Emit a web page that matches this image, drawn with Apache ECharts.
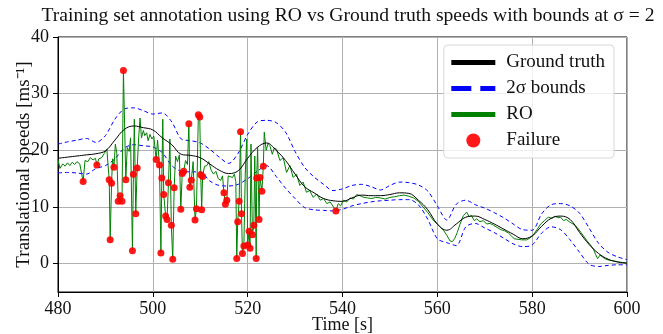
<!DOCTYPE html>
<html>
<head>
<meta charset="utf-8">
<script src="https://cdn.jsdelivr.net/npm/echarts@6/dist/echarts.min.js"></script>
<style>
  html, body { margin: 0; padding: 0; background: #fff; }
  #chart { width: 663px; height: 334px; }
</style>
</head>
<body>
<div id="chart"></div>
<script>
// ground truth and 2-sigma bounds, sampled every 2 s
var gtTime = [480, 482, 484, 486, 488, 490, 492, 494, 496, 498, 500, 502, 504, 506, 508, 510, 512, 514, 516, 518,
    520, 522, 524, 526, 528, 530, 532, 534, 536, 538, 540, 542, 544, 546, 548, 550, 552, 554, 556, 558,
    560, 562, 564, 566, 568, 570, 572, 574, 576, 578, 580, 582, 584, 586, 588, 590, 592, 594, 596, 598, 600];
var gtSpeed = [18.6, 18.8, 19.0, 19.2, 19.4, 19.9, 21.8, 23.7, 24.3, 24.0, 23.6, 22.2, 21.0, 19.3, 19.1, 18.7, 17.6, 16.5, 15.9, 16.4,
    18.6, 20.5, 21.3, 20.0, 18.2, 15.8, 13.6, 12.5, 11.5, 11.1, 11.0, 11.6, 12.1, 12.0, 12.0, 12.2, 12.5, 12.4, 11.2, 9.5,
    7.0, 5.9, 7.0, 8.2, 8.4, 7.8, 7.0, 6.1, 5.2, 4.4, 4.9, 6.6, 8.0, 8.4, 7.8, 5.5, 3.4, 1.8, 0.8, 0.3, 0.1];
var upperBound = [21.1, 21.5, 21.8, 22.1, 21.4, 22.6, 25.5, 27.3, 27.5, 27.0, 26.4, 26.6, 25.0, 22.0, 21.7, 21.3, 20.2, 18.8, 17.7, 19.5,
    22.8, 25.0, 25.3, 24.9, 23.2, 19.8, 17.0, 15.3, 14.0, 12.9, 13.2, 13.8, 14.0, 13.6, 13.0, 13.8, 14.4, 14.3, 13.9, 12.8,
    10.2, 7.7, 10.5, 11.2, 10.4, 9.8, 9.0, 8.1, 7.0, 6.0, 5.9, 8.8, 10.4, 10.6, 10.2, 8.9, 6.3, 3.6, 2.0, 1.2, 0.7];
var lowerBound = [16.0, 16.1, 16.0, 15.8, 16.8, 17.3, 18.5, 20.4, 21.0, 20.8, 20.6, 19.6, 17.3, 16.3, 16.2, 16.2, 14.6, 13.8, 13.7, 14.0,
    15.0, 16.3, 17.3, 15.4, 13.3, 11.5, 9.9, 9.5, 9.4, 9.3, 9.6, 10.2, 10.6, 10.9, 11.1, 11.2, 11.3, 11.3, 10.4, 7.8,
    4.4, 3.7, 3.2, 6.5, 7.1, 6.3, 5.5, 4.5, 3.5, 3.0, 3.3, 5.4, 6.5, 6.0, 4.2, 2.0, -0.1, -0.5, -0.3, -0.2, -0.2];

// RO estimates that stay inside the bounds
var roTime = [480, 480.4, 481, 481.5, 482, 482.5, 483, 483.5, 484, 484.6, 485.0, 485.7, 486.3, 486.8, 487.4, 487.9, 488.6, 489.2, 489.8, 490.3,
    491.5, 492.1, 492.4, 494.6, 495.0, 495.3, 496.1, 497.0, 497.3, 497.6, 498.0, 498.3, 498.7, 499.0, 499.4, 499.8, 500.2, 501.0, 502.1, 503.6,
    504.8, 505.2, 505.6, 506.9, 507.3, 508.5, 510.9, 511.4, 511.8, 512.3, 512.8, 513.3, 513.8, 514.3, 514.7, 515.9, 516.3, 516.8, 517.2, 517.5,
    519.5, 519.8, 520.7, 521.5, 522.1, 523.5, 523.9, 524.3, 524.7, 525.2, 525.6, 526.1, 526.8, 527.5, 528.2, 528.9, 529.6, 530.3, 531.0, 531.7,
    532.4, 533.1, 533.8, 534.6, 535.3, 536.0, 536.7, 537.4, 538.1, 539.1, 539.6, 540.2, 540.9, 541.6, 542.3, 543.0, 543.7, 544.5, 545.3, 546.2,
    547.0, 548.0, 549.0, 550.0, 551.0, 552.0, 553.0, 554.0, 555.0, 556.0, 557.0, 558.0, 559.1, 560.2, 561.3, 562.0, 562.7, 563.2, 563.7, 564.2,
    564.8, 565.5, 566.2, 566.7, 567.2, 567.8, 568.3, 569.0, 569.7, 570.4, 571.1, 571.8, 572.6, 573.4, 574.2, 575.0, 575.6, 576.2, 577.0, 577.8,
    578.8, 579.5, 580.2, 581.0, 581.8, 582.6, 583.4, 584.2, 584.8, 585.4, 586.0, 586.6, 587.2, 588.0, 588.8, 589.5, 590.3, 591.0, 591.6, 592.3,
    592.9, 593.4, 593.8, 594.3, 594.8, 595.5, 596.3, 597.2, 598.2, 599.1, 600.0];
var roSpeed = [18.4, 16.8, 17.6, 17.2, 17.8, 17.3, 17.9, 17.5, 18.0, 17.6, 17.8, 18.2, 18.0, 18.7, 18.3, 18.6, 18.5, 18.7, 19.5, 20.2,
    18.5, 21.1, 19.5, 20.5, 19.8, 22.2, 25.5, 22.0, 25.7, 22.2, 23.5, 22.6, 23.1, 21.7, 22.8, 22.0, 22.5, 21.8, 25.5, 22.0,
    19.0, 18.0, 19.2, 18.2, 17.5, 18.0, 17.2, 17.3, 18.0, 16.5, 15.8, 16.3, 15.0, 14.7, 15.5, 15.5, 15.8, 15.2, 15.8, 14.5,
    16.0, 22.0, 21.1, 19.0, 20.5, 23.2, 20.0, 21.2, 20.8, 19.3, 20.4, 20.2, 18.2, 18.7, 16.1, 17.3, 15.2, 15.8, 13.8, 14.4,
    12.6, 12.9, 11.7, 12.3, 11.2, 11.5, 10.6, 10.9, 10.0, 10.6, 10.2, 11.2, 10.9, 11.6, 11.4, 12.2, 12.0, 11.7, 11.6, 11.5,
    11.7, 11.6, 11.4, 11.7, 11.8, 12.0, 12.1, 11.9, 11.6, 11.0, 10.0, 9.0, 7.7, 6.8, 5.9, 5.0, 4.0, 3.9, 4.5, 5.5,
    7.0, 8.5, 9.1, 8.3, 8.5, 7.6, 7.9, 7.4, 7.6, 7.0, 7.1, 6.8, 6.4, 6.0, 5.8, 5.4, 4.9, 4.4, 4.3, 4.2,
    4.2, 4.5, 5.0, 6.0, 7.0, 7.6, 8.2, 8.0, 8.4, 8.1, 8.2, 7.6, 7.8, 7.3, 6.9, 6.4, 5.5, 4.7, 4.0, 3.3,
    2.6, 1.6, 0.9, 1.5, 1.2, 0.8, 0.6, 0.5, 0.3, 0.2, 0.1];

// RO estimates flagged as failures (outside the bounds)
var failTime = [485.3, 488.2, 490.8, 491.0, 491.3, 491.8, 492.7, 493.1, 493.5, 493.8, 494.3, 495.7, 495.9, 496.4, 496.7,
    500.7, 501.4, 501.7, 501.9, 502.3, 502.7, 503.0, 503.3, 503.9, 504.2, 504.5, 505.9, 506.2, 506.5, 507.6, 507.8, 508.1,
    508.9, 509.2, 509.6, 509.9, 510.1, 510.3, 510.5, 515.0, 515.3, 515.6, 517.7, 517.9, 518.2, 518.5, 518.7, 518.9, 519.2,
    520.0, 520.3, 520.5, 521.0, 521.3, 521.8, 521.9, 522.4, 522.6, 523.0, 523.3, 538.6];
var failSpeed = [14.5, 17.4, 14.8, 4.2, 14.2, 17.0, 11.0, 12.0, 11.0, 34.1, 14.8, 2.3, 15.8, 8.8, 16.9,
    18.4, 17.4, 1.9, 15.1, 12.2, 8.4, 7.8, 14.3, 6.8, 0.8, 13.4, 9.6, 15.9, 16.3, 24.7, 13.5, 14.7,
    7.7, 9.7, 26.3, 25.9, 15.7, 9.5, 15.4, 12.5, 10.5, 11.2, 0.9, 7.4, 11.0, 23.3, 8.8, 1.8, 3.1,
    3.3, 5.7, 2.7, 5.1, 6.8, 0.9, 15.1, 7.8, 15.2, 12.8, 17.2, 9.3];

var yTicks = [0, 10, 20, 30, 40];

function pairs(xs, ys) {
    var out = [];
    for (var i = 0; i < xs.length; i++) {
        out.push([xs[i], ys[i]]);
    }
    return out;
}

var gtData = pairs(gtTime, gtSpeed);
var upperData = pairs(gtTime, upperBound);
var lowerData = pairs(gtTime, lowerBound);
var failData = pairs(failTime, failSpeed);
// the RO trace goes through every estimate, failures included
var roData = pairs(roTime, roSpeed).concat(failData).sort(function (a, b) { return a[0] - b[0]; });

var font = 'Liberation Serif';
var hideSymbol = { opacity: 0 };
var chart = echarts.init(document.getElementById('chart'));
var option = {
    animation: false,
    title: {
        text: 'Training set annotation using RO vs Ground truth speeds with bounds at σ = 2',
        left: 343,
        textAlign: 'center',
        top: 1,
        textStyle: { fontFamily: font, fontSize: 19.6, fontWeight: 'normal', color: '#111' }
    },
    grid: {
        left: 58,
        right: 36,
        top: 37,
        bottom: 42,
        containLabel: false,
        outerBoundsMode: 'none',
        show: true,
        borderColor: '#000',
        borderWidth: 1
    },
    legend: {
        orient: 'vertical',
        right: 49,
        top: 45,
        padding: [8, 9, 8, 5],
        itemWidth: 44,
        itemHeight: 14,
        itemGap: 7,
        backgroundColor: 'rgba(255,255,255,0.8)',
        borderColor: '#d8d8d8',
        borderWidth: 1,
        borderRadius: 4,
        textStyle: { fontFamily: font, fontSize: 19, color: '#111', padding: [0, 0, 0, 6] },
        data: [
            { name: 'Ground truth', lineStyle: { width: 5 }, itemStyle: hideSymbol },
            { name: '2σ bounds', lineStyle: { width: 5, type: [20, 9] }, itemStyle: hideSymbol },
            { name: 'RO', lineStyle: { width: 5 }, itemStyle: hideSymbol },
            { name: 'Failure', icon: 'circle' }
        ]
    },
    xAxis: {
        type: 'value',
        min: 480,
        max: 600,
        interval: 20,
        name: 'Time [s]',
        nameLocation: 'middle',
        nameGap: 24,
        nameMoveOverlap: false,
        nameTextStyle: { fontFamily: font, fontSize: 18, color: '#111' },
        axisLine: { onZero: false, lineStyle: { color: '#000' } },
        axisTick: { length: 5, lineStyle: { color: '#000' } },
        axisLabel: { fontFamily: font, fontSize: 18, color: '#111', margin: 8 },
        splitLine: { lineStyle: { color: '#b0b0b0', width: 1 } }
    },
    yAxis: {
        type: 'value',
        min: -5,
        max: 40,
        name: 'Translational speeds [ms⁻¹]',
        nameLocation: 'middle',
        nameGap: 24,
        nameMoveOverlap: false,
        nameTextStyle: { fontFamily: font, fontSize: 19, color: '#111' },
        axisLine: { show: true, onZero: false, lineStyle: { color: '#000' } },
        axisTick: { show: true, length: 5, lineStyle: { color: '#000' }, customValues: yTicks },
        axisLabel: { fontFamily: font, fontSize: 18, color: '#111', margin: 9, customValues: yTicks },
        splitLine: { lineStyle: { color: '#b0b0b0', width: 1 } }
    },
    series: [
        {
            name: '2σ bounds',
            type: 'line',
            data: upperData,
            smooth: 0.3,
            symbol: 'none',
            color: '#0000ff',
            lineStyle: { color: '#0000ff', width: 1, type: [4, 3] },
            z: 2
        },
        {
            name: '2σ bounds',
            type: 'line',
            data: lowerData,
            smooth: 0.3,
            symbol: 'none',
            color: '#0000ff',
            lineStyle: { color: '#0000ff', width: 1, type: [4, 3] },
            z: 2
        },
        {
            name: 'RO',
            type: 'line',
            data: roData,
            symbol: 'none',
            color: '#008000',
            lineStyle: { color: '#008000', width: 1 },
            z: 3
        },
        {
            name: 'Ground truth',
            type: 'line',
            data: gtData,
            smooth: 0.4,
            symbol: 'none',
            color: '#000',
            lineStyle: { color: '#000', width: 1 },
            z: 4
        },
        {
            name: 'Failure',
            type: 'scatter',
            data: failData,
            symbolSize: 7,
            itemStyle: { color: '#ff0000', opacity: 0.9 },
            z: 5
        }
    ]
};
chart.setOption(option);
</script>
</body>
</html>
